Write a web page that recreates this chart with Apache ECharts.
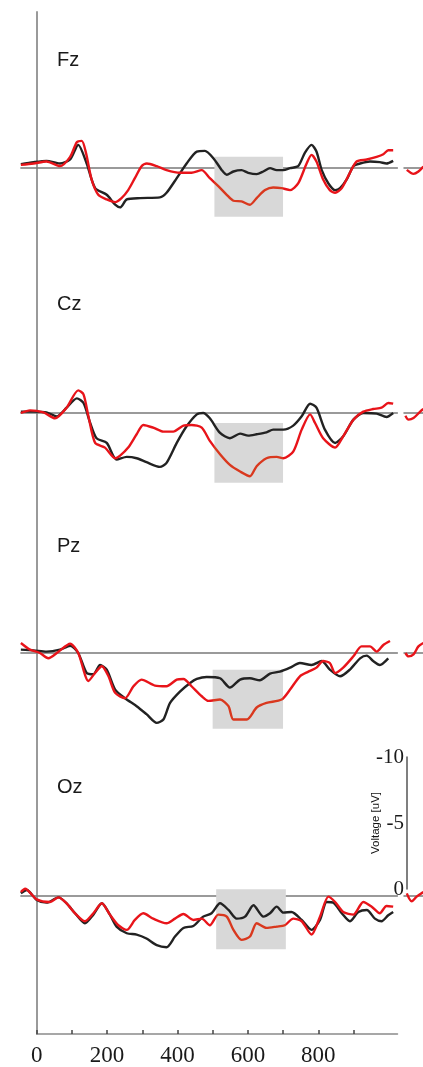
<!DOCTYPE html>
<html>
<head>
<meta charset="utf-8">
<script src="https://cdn.jsdelivr.net/npm/echarts@6/dist/echarts.min.js"></script>
<style>
html,body{margin:0;padding:0;background:#fff;}
#chart{width:423px;height:1067px;}
</style>
</head>
<body>
<div id="chart"></div>
<script>
// ---- data ----
const channels = ['Fz', 'Cz', 'Pz', 'Oz'];
const xTicks = [0, 100, 200, 300, 400, 500, 600, 700, 800, 900];
const xLabels = [0, 200, 400, 600, 800];
const voltTicks = [-10, -5, 0];

// [time ms, voltage uV] (negative up)
const fzBlack = [[-45,-0.25],[-9,-0.4],[28,-0.5],[66,-0.3],[95,-0.6],[118,-1.7],[142,-0.3],[166,1.55],[199,2.05],[223,2.8],[237,3.0],[256,2.4],[294,2.3],[350,2.25],[369,1.9],[398,0.8],[426,-0.3],[455,-1.2],[478,-1.25],[502,-0.7],[526,0.2],[540,0.55],[559,0.3],[582,0.2],[601,0.4],[625,0.5],[644,0.3],[663,0.05],[682,0.2],[701,0.2],[720,0.05],[743,-0.1],[762,-1.1],[781,-1.7],[795,-1.2],[810,0.2],[829,1.2],[848,1.7],[862,1.55],[881,0.9],[900,-0.1],[919,-0.3],[947,-0.45],[975,-0.4],[994,-0.3],[1013,-0.5]];
const fzRed = [[-45,-0.2],[-9,-0.3],[28,-0.45],[66,-0.1],[95,-0.8],[114,-1.9],[128,-2.0],[140,-1.1],[156,0.9],[175,2.05],[199,2.4],[223,2.6],[241,2.3],[260,1.7],[279,0.8],[298,-0.1],[313,-0.3],[341,-0.1],[369,0.2],[407,0.4],[440,0.4],[469,0.2],[492,0.8],[516,1.4],[540,2.05],[559,2.5],[582,2.55],[606,2.8],[625,2.3],[649,1.7],[672,1.5],[696,1.55],[720,1.7],[743,1.2],[767,-0.3],[781,-0.95],[795,-0.45],[814,0.9],[833,1.7],[848,1.9],[867,1.55],[890,0.4],[909,-0.45],[938,-0.6],[966,-0.8],[985,-1.0],[999,-1.3],[1013,-1.3]];
const czBlack = [[-45,-0.1],[-9,-0.1],[28,-0.05],[57,0.25],[85,-0.4],[114,-1.1],[133,-0.75],[152,0.75],[170,1.9],[199,2.25],[227,3.5],[256,3.3],[284,3.4],[312,3.7],[350,4.05],[369,3.75],[398,2.25],[426,1.0],[455,0.1],[473,0],[492,0.4],[521,1.5],[549,1.9],[578,1.55],[601,1.7],[625,1.6],[653,1.45],[672,1.25],[701,1.25],[729,0.95],[753,0.25],[777,-0.7],[795,-0.4],[819,1.25],[848,2.25],[871,1.75],[900,0.5],[928,0],[966,0.05],[994,0.3],[1013,0]];
const czRed = [[-45,0],[-19,-0.2],[19,-0.05],[52,0.4],[85,-0.4],[118,-1.7],[133,-1.4],[147,0.25],[166,2.25],[194,2.6],[223,3.4],[237,3.2],[260,2.6],[284,1.6],[303,0.9],[331,1.1],[360,1.4],[388,1.4],[417,0.95],[440,0.9],[469,1.1],[492,2.1],[521,3.1],[549,3.9],[578,4.4],[606,4.75],[625,4.0],[653,3.4],[682,3.3],[701,3.4],[729,2.9],[753,1.25],[777,0.1],[791,0.75],[814,1.9],[848,2.6],[871,1.75],[900,0.5],[928,-0.1],[956,-0.3],[980,-0.4],[999,-0.75],[1013,-0.7]];
const pzBlack = [[-45,-0.25],[-9,-0.2],[28,-0.1],[66,-0.25],[95,-0.55],[118,0],[142,1.5],[161,1.6],[180,0.9],[199,1.25],[223,2.75],[251,3.4],[284,4.0],[312,4.6],[341,5.25],[360,5.0],[379,3.75],[407,2.9],[436,2.25],[455,1.95],[483,1.8],[521,1.9],[549,2.6],[578,2.0],[606,1.9],[634,2.05],[663,1.55],[691,1.4],[720,1.1],[748,0.75],[781,0.9],[810,0.6],[833,1.25],[862,1.75],[890,1.25],[919,0.4],[938,0.2],[956,0.6],[975,0.9],[999,0.4]];
const pzRed = [[-45,-0.75],[-19,-0.25],[9,0],[33,0.4],[62,-0.1],[95,-0.7],[118,0],[147,2.1],[166,1.5],[185,1.0],[204,1.75],[223,3.0],[251,3.4],[275,2.5],[298,2.0],[336,2.45],[369,2.5],[398,2.0],[417,1.95],[440,2.5],[469,3.25],[488,3.6],[521,3.5],[545,4.0],[559,5.0],[597,5.0],[625,4.1],[653,3.75],[696,3.5],[720,2.75],[748,1.75],[772,1.4],[795,1.1],[814,0.6],[833,0.75],[848,1.5],[871,1.1],[900,0.25],[923,-0.5],[947,-0.5],[966,-0.1],[985,-0.6],[1004,-0.9]];
const ozBlack = [[-45,-0.2],[-28,-0.45],[0,0.3],[28,0.5],[62,0.1],[85,0.55],[109,1.3],[137,2.05],[161,1.4],[185,0.55],[208,1.4],[227,2.3],[256,2.8],[284,2.9],[312,3.2],[341,3.7],[369,3.85],[393,3.05],[417,2.4],[445,2.25],[473,1.55],[497,1.3],[521,0.55],[545,1.05],[568,1.7],[592,1.55],[616,0.7],[644,1.55],[663,1.3],[682,0.8],[701,1.25],[724,1.2],[753,1.8],[781,2.55],[805,1.8],[824,0.45],[843,0.5],[867,1.3],[890,1.9],[914,1.2],[938,1.05],[961,1.7],[980,1.9],[999,1.45],[1013,1.2]];
const ozRed = [[-45,-0.3],[-33,-0.55],[0,0.25],[38,0.45],[62,0.1],[85,0.55],[109,1.3],[137,1.9],[161,1.3],[185,0.55],[208,1.4],[232,2.2],[256,2.55],[279,1.8],[303,1.3],[331,1.7],[369,2.05],[393,1.7],[417,1.35],[445,1.8],[469,1.7],[492,2.2],[516,1.4],[540,1.55],[559,2.55],[582,3.3],[606,3.05],[625,2.05],[653,2.4],[682,2.3],[705,2.2],[729,1.7],[753,1.9],[781,2.9],[805,1.55],[829,0.05],[848,0.45],[871,1.2],[900,1.4],[928,0.45],[952,0.8],[975,1.3],[994,0.75],[1013,0.8]];

// cut-off fragments of the neighbouring (right) column
const fzRightRed = [[-37,0.18],[-18,0.48],[-4,0.3],[10,-0.08]];
const czRightRed = [[-41,0.2],[-32,0.5],[-18,0.38],[1,-0.1],[10,-0.3]];
const pzRightRed = [[-41,0],[-32,0.25],[-18,0.1],[-4,-0.5],[10,-0.75]];
const ozRightRed = [[-37,-0.2],[-23,0.4],[-9,0.05],[10,-0.3]];

// shaded analysis window per channel: [tStart, tEnd, vTop, vBottom]
const windowFz = [505, 700, -0.8, 3.7];
const windowCz = [505, 700, 0.75, 5.25];
const windowPz = [500, 700, 1.25, 5.7];
const windowOz = [510, 708, -0.5, 4.0];

const blackData = [fzBlack, czBlack, pzBlack, ozBlack];
const redData = [fzRed, czRed, pzRed, ozRed];
const rightData = [fzRightRed, czRightRed, pzRightRed, ozRightRed];
const windows = [windowFz, windowCz, windowPz, windowOz];

// ---- layout ----
const baselines = [167.5, 413, 653, 896];
const labelCenters = [57, 301, 543, 784];
const pxPerUV = 13.3;
const yHalf = 8;
const pxPerMs = 0.3519;
const xMin = -45, xMax = 1025;
const panelLeft = 36.7 + xMin * pxPerMs;
const panelWidth = (xMax - xMin) * pxPerMs;
const fragLeft = 404;
const fragWidth = 423 - fragLeft;
const fragMax = xMin + fragWidth / pxPerMs;

const RED = '#e8141a';
const RED_IN = '#d9381e';
const BLACK = '#222222';

const grid = [], xAxis = [], yAxis = [], series = [], visualMap = [], title = [];

channels.forEach((ch, i) => {
  const top = baselines[i] - yHalf * pxPerUV;
  const h = 2 * yHalf * pxPerUV;
  // main panel
  grid.push({ left: panelLeft, top: top, width: panelWidth, height: h });
  // right fragment panel (cut off by the picture edge)
  grid.push({ left: fragLeft, top: top, width: fragWidth, height: h });
  [0, 1].forEach(k => {
    const gi = i * 2 + k;
    xAxis.push({
      gridIndex: gi, type: 'value', min: xMin, max: k === 0 ? xMax : fragMax,
      axisLine: { show: true, onZero: true, lineStyle: { color: '#7a7a7a', width: 1.5 } },
      axisTick: { show: false }, axisLabel: { show: false }, splitLine: { show: false }
    });
    yAxis.push({
      gridIndex: gi, type: 'value', min: -yHalf, max: yHalf, inverse: true,
      axisLine: { show: false }, axisTick: { show: false }, axisLabel: { show: false }, splitLine: { show: false }
    });
  });
  const w = windows[i];
  series.push({
    type: 'line', xAxisIndex: i * 2, yAxisIndex: i * 2, data: [], z: 1, silent: true,
    markArea: {
      silent: true,
      itemStyle: { color: '#d8d8d8' },
      data: [[{ xAxis: w[0], yAxis: w[2] }, { xAxis: w[1], yAxis: w[3] }]]
    }
  });
  series.push({
    type: 'line', xAxisIndex: i * 2, yAxisIndex: i * 2, data: blackData[i], z: 3,
    symbol: 'none', smooth: 0.25, lineStyle: { color: BLACK, width: 2.4 }
  });
  const redIdx = series.length;
  series.push({
    type: 'line', xAxisIndex: i * 2, yAxisIndex: i * 2, data: redData[i], z: 4,
    symbol: 'none', smooth: 0.25, lineStyle: { width: 2.4 }
  });
  visualMap.push({
    show: false, type: 'piecewise', seriesIndex: redIdx, dimension: 0,
    pieces: [{ lt: w[0], color: RED }, { gte: w[0], lte: w[1], color: RED_IN }, { gt: w[1], color: RED }]
  });
  series.push({
    type: 'line', xAxisIndex: i * 2 + 1, yAxisIndex: i * 2 + 1, data: rightData[i], z: 4,
    symbol: 'none', smooth: 0.3, clip: false, lineStyle: { color: RED, width: 2.4 }
  });
  title.push({
    text: ch, left: 52, top: labelCenters[i] - 12,
    textStyle: { fontFamily: 'Liberation Sans, Arial, sans-serif', fontSize: 20, fontWeight: 'normal', color: '#1a1a1a' }
  });
});

// voltage scale bar (grid 8)
grid.push({ left: 407, top: 757, width: 10, height: 132 });
xAxis.push({ gridIndex: 8, type: 'value', show: false, min: 0, max: 1 });
yAxis.push({
  gridIndex: 8, type: 'value', min: -10, max: 0, inverse: true, interval: 5,
  axisLine: { show: true, lineStyle: { color: '#555', width: 1.5 } },
  axisTick: { show: false },
  axisLabel: { show: true, margin: 3, fontFamily: 'Liberation Serif, Times New Roman, serif', fontSize: 21, color: '#1a1a1a',
    customValues: voltTicks },
  splitLine: { show: false },
  name: 'Voltage [uV]', nameLocation: 'middle', nameRotate: 90, nameGap: 25, nameMoveOverlap: false,
  nameTextStyle: { fontFamily: 'Liberation Sans, Arial, sans-serif', fontSize: 11.5, color: '#111' }
});

// time axis + vertical axis line (grid 9)
grid.push({ left: 36.7, top: 12, width: 360.8, height: 1023.7 });
xAxis.push({
  gridIndex: 9, type: 'value', min: 0, max: 1025,
  axisLine: { show: true, onZero: false, lineStyle: { color: '#8a8a8a', width: 1.5 } },
  axisTick: { show: true, inside: true, length: 4, customValues: xTicks, lineStyle: { color: '#444', width: 1.5 } },
  axisLabel: { show: true, customValues: xLabels, margin: 10, fontFamily: 'Liberation Serif, Times New Roman, serif', fontSize: 23, color: '#1a1a1a' },
  splitLine: { show: false }
});
yAxis.push({
  gridIndex: 9, type: 'value', min: 0, max: 1,
  axisLine: { show: true, lineStyle: { color: '#9a9a9a', width: 2 } },
  axisTick: { show: false }, axisLabel: { show: false }, splitLine: { show: false }
});

const chart = echarts.init(document.getElementById('chart'), null, { renderer: 'canvas' });
chart.setOption({
  backgroundColor: '#ffffff',
  animation: false,
  title: title,
  grid: grid,
  xAxis: xAxis,
  yAxis: yAxis,
  visualMap: visualMap,
  series: series
});
</script>
</body>
</html>
